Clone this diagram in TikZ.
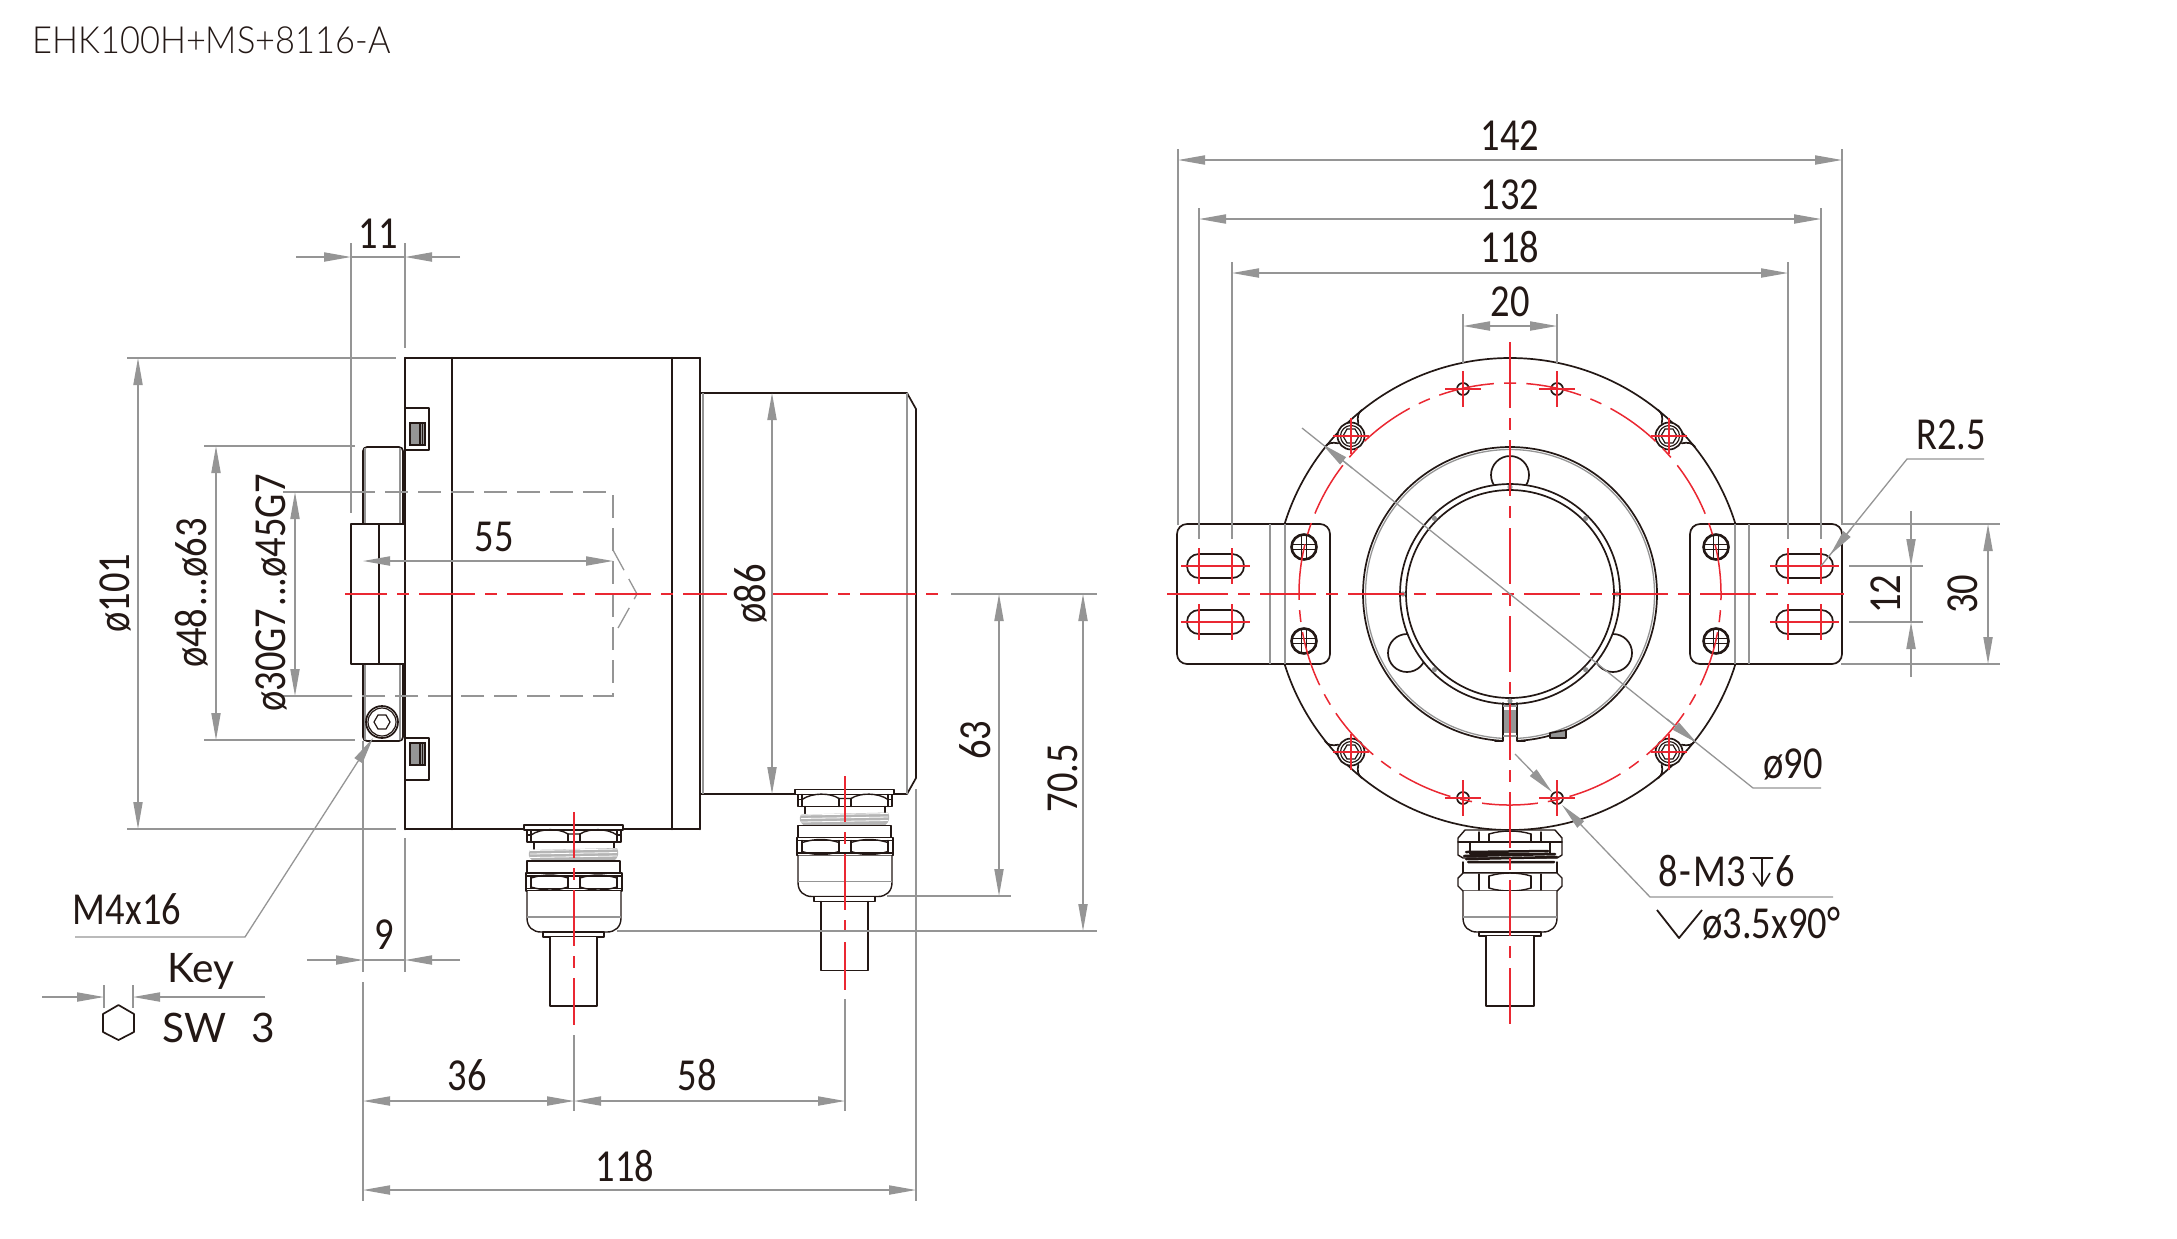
\documentclass[tikz,border=0pt]{standalone}
\usepackage{fontspec}
\usetikzlibrary{arrows.meta}
\newfontfamily\dimfont[FakeStretch=0.84]{Carlito}
\newfontfamily\lblfont{Lato}
\newfontfamily\ttlfont[FakeStretch=0.92]{Lato Light}
\definecolor{inkc}{HTML}{231815}
\definecolor{dimc}{HTML}{959595}
\definecolor{redc}{HTML}{EA2832}
\tikzset{
  x=0.5pt,y=-0.5pt,
  tip/.tip={Triangle[length=13.5pt,width=4.6pt,fill=dimc]},
  ink/.style={draw=inkc,line width=0.85pt,line cap=round,line join=round},
  inkg/.style={draw=inkc,line width=0.7pt,line cap=round,line join=round},
  inkb/.style={draw=inkc,line width=1.25pt,line cap=round,line join=round},
  inkt/.style={draw=inkc,line width=0.6pt},
  gl/.style={draw=dimc,line width=0.65pt},
  gdash/.style={draw=dimc,line width=0.65pt,dash pattern=on 11.5pt off 5pt},
  dimboth/.style={gl,{tip}-{tip}},
  dimto/.style={gl,-{tip}},
  rl/.style={draw=redc,line width=0.7pt},
  rc/.style={draw=redc,line width=0.75pt,dash pattern=on 28pt off 5pt on 6pt off 5pt},
  dimt/.style={inner sep=0pt,text=inkc,font=\dimfont\fontsize{22.9}{24}\selectfont,text height=14.5pt,text depth=0pt},
  lbl/.style={inner sep=0pt,text=inkc,font=\lblfont\fontsize{20.3}{22}\selectfont,anchor=base},
  gland/.pic={
    \draw[inkg,fill=white] (-50,0) rectangle (49,5);
    \draw[inkg,fill=white] (-47,5) rectangle (47,17);
    \draw[inkg] (-43,5)--(-43,17) (43,5)--(43,17) (-6,9)--(-6,17) (6,9)--(6,17) (-47,10)--(-43,10) (47,10)--(43,10);
    \draw[inkg] (-43,10) .. controls (-33,3) and (-15,3) .. (-6,9) -- (6,9) .. controls (15,3) and (33,3) .. (43,10);
    \draw[inkg] (-40,17)--(-40,24) (40,17)--(40,24);
    \fill[dimc!70] (-44,25) .. controls (-46,29) and (-46,32) .. (-41,36) -- (40,36) .. controls (45,32) and (45,27) .. (43,23) -- cycle;
    \foreach \yy in {25.5,29,32.5}{\draw[white,line width=0.4pt] (-44,\yy)--(43,\yy-1.5);}
    \draw[inkg,fill=white] (-47,36) -- (46,36) -- (46,48) -- (-47,48) -- cycle;
    \draw[inkg,fill=white] (-48,48) rectangle (48,66);
    \draw[inkg] (-48,51)--(48,51) (-48,63.5)--(48,63.5) (-43,51)--(-43,63.5) (43,51)--(43,63.5) (-6,51)--(-6,63.5) (6,51)--(6,63.5);
    \draw[inkg] (-43,53) .. controls (-30,49) and (-18,49) .. (-6,53) (-43,62) .. controls (-30,66) and (-18,66) .. (-6,62);
    \draw[inkg] (43,53) .. controls (30,49) and (18,49) .. (6,53) (43,62) .. controls (30,66) and (18,66) .. (6,62);
    \draw[inkg,fill=white] (-47,66) -- (-47,93) .. controls (-47,102) and (-41,107) .. (-33,107) -- (33,107) .. controls (41,107) and (47,102) .. (47,93) -- (47,66);
    \draw[gl] (-47,92)--(47,92);
    \draw[inkg,fill=white] (-31,107) rectangle (30,112);
    \draw[inkg,fill=white] (-24,112) -- (-24,181) -- (23,181) -- (23,112);
  },
  glandb/.pic={
    \draw[inkg,fill=white] (-52,8) -- (-45,0) -- (45,0) -- (52,8) -- (52,25) -- (47,28) -- (-47,28) -- (-52,25) -- cycle;
    \draw[inkg] (-52,12)--(52,12) (-31,2)--(-31,12) (-21,4)--(-21,12) (21,4)--(21,12) (31,2)--(31,12);
    \draw[inkg] (-21,4) .. controls (-8,0) and (8,0) .. (21,4);
    \draw[inkg,fill=white] (-40,12) rectangle (40,24);
    \draw[inkb] (-44,22)--(38,21) (-46,26)--(45,24) (-44,29)--(47,27) (-42,32)--(44,32);
    \draw[inkg] (-47,32) -- (-47,43) (47,32) -- (47,43) (-47,43)--(47,43);
    \draw[inkg,fill=white] (-47,43) -- (47,43) -- (52,48) -- (52,56) -- (47,61) -- (-47,61) -- (-52,56) -- (-52,48) -- cycle;
    \draw[inkg] (-31,44)--(-31,60) (-21,46)--(-21,58) (21,46)--(21,58) (31,44)--(31,60);
    \draw[inkg] (-21,46) .. controls (-8,42) and (8,42) .. (21,46) (-21,58) .. controls (-8,62) and (8,62) .. (21,58);
    \draw[inkg,fill=white] (-47,61) -- (-47,88) .. controls (-47,97) and (-41,102) .. (-33,102) -- (33,102) .. controls (41,102) and (47,97) .. (47,88) -- (47,61);
    \draw[gl] (-47,87)--(47,87);
    \draw[inkg,fill=white] (-31,102) rectangle (31,106);
    \draw[inkg,fill=white] (-24,106) -- (-24,176) -- (24,176) -- (24,106);
  },
  phil/.pic={
    \draw[draw=inkc,line width=1.3pt,fill=white] (0,0) circle[radius=12.5];
    \draw[inkt] (-12,-2.5)--(12,-2.5) (-12,2.5)--(12,2.5) (-2.5,-12)--(-2.5,12) (2.5,-12)--(2.5,12);
    \fill[white] (-2.2,-2.2) rectangle (2.2,2.2);
  },
  boltp/.pic={
    \draw[ink,fill=white] (0,0) circle[radius=13.5];
    \draw[inkt] (0,0) circle[radius=10.5];
    \draw[inkt] (8,0)--(4,-7)--(-4,-7)--(-8,0)--(-4,7)--(4,7)--cycle;
  }
}
\begin{document}
\begin{tikzpicture}
\useasboundingbox (0,0) rectangle (2177,1238);
\node[inner sep=0pt,text=inkc,anchor=base west,font=\ttlfont\fontsize{18.7}{22}\selectfont] (title) at (32,53) {EHK100H+MS+8116-A};

%% ---------- side view: body
\draw[ink] (405,358) rectangle (700,829);
\draw[inkb] (405,358)--(405,829) (452,358)--(452,829) (672,358)--(672,829) (700,358)--(700,829);
\draw[ink] (700,393)--(907,393)--(916,409)--(916,778)--(907,794)--(700,794);
\draw[gl] (703,393)--(703,794) (907,393)--(907,794);
\foreach \yy/\iy in {408/423,738/743}{
  \draw[ink] (405,\yy) rectangle (429,\yy+42);
  \fill[dimc] (410,\iy) rectangle (425,\iy+22);
  \draw[inkt] (410,\iy) rectangle (425,\iy+22);
  \draw[inkt] (420,\iy)--(420,\iy+22) (422.5,\iy)--(422.5,\iy+22);
}
\draw[ink,rounded corners=2pt] (403,447)--(363,447)--(363,741)--(403,741)--cycle;
\draw[gl] (365,448)--(365,740) (400,448)--(400,740);
\draw[inkb] (403,480)--(403,710);
\draw[inkb,fill=white] (351,524) rectangle (405,664);
\draw[ink] (379,524)--(379,664);
\draw[ink] (382,722) circle[radius=16];
\draw[inkt] (382,722) circle[radius=14];
\draw[inkt] (390,722)--(386,715)--(378,715)--(374,722)--(378,729)--(386,729)--cycle;

%% glands on the side view
\pic at (574,825) {gland};
\pic at (845,789.5) {gland};

%% dashed bore
\draw[gdash] (352,492)--(613,492)--(613,696)--(352,696);
\draw[gdash] (613,550)--(637,594)--(613,637);

%% centre lines side view
\draw[rc,dash phase=7pt] (345,594)--(727,594);
\draw[rc] (772,594)--(944,594);
\draw[gl] (951,594)--(1097,594);
\draw[rc,dash phase=5pt] (574,812)--(574,1025);
\draw[rc,dash phase=5pt] (845,776)--(845,990);

%% extension lines side view
\draw[gl] (351,243)--(351,513) (405,243)--(405,348) (405,838)--(405,972);
\draw[gl] (127,358)--(396,358) (127,829)--(396,829);
\draw[gl] (204,446)--(355,446) (204,740)--(355,740);
\draw[gl] (283,492)--(352,492) (283,696)--(352,696);
\draw[gl] (363,741)--(363,972) (363,982)--(363,1201) (916,789)--(916,1201);
\draw[gl] (574,1035)--(574,1111) (845,999)--(845,1111);
\draw[gl] (887,896)--(1011,896) (617,931)--(1097,931);

%% dimensions side view
\draw[dimto] (296,257)--(351,257);
\draw[gl] (351,257)--(405,257);
\draw[dimto] (460,257)--(405,257);
\node[dimt] (d11) at (378,234) {11};
\draw[dimboth] (138,358)--(138,829);
\node[dimt,rotate=90] (d101) at (115,593) {ø101};
\draw[dimboth] (216,446)--(216,740);
\node[dimt,rotate=90] (d63) at (191.5,593) {ø48\kern1pt...ø63};
\draw[dimboth] (295,492)--(295,696);
\node[dimt,rotate=90] (d45) at (270.5,593) {ø30G7\kern1pt...ø45G7};
\draw[dimboth] (363,561)--(613,561);
\node[dimt] (d55) at (494,537) {55};
\draw[dimboth] (772,393)--(772,794);
\node[dimt,rotate=90] (d86) at (751,594) {ø86};
\draw[dimboth] (999,594)--(999,896);
\node[dimt,rotate=90] (d63b) at (976,740) {63};
\draw[dimboth] (1083,594)--(1083,931);
\node[dimt,rotate=90] (d705) at (1063,778) {70.5};
\draw[dimto] (307,960)--(363,960);
\draw[gl] (363,960)--(405,960);
\draw[dimto] (460,960)--(405,960);
\node[dimt] (d9) at (384,935) {9};
\draw[dimboth] (363,1101)--(574,1101);
\node[dimt] (d36) at (467,1076) {36};
\draw[dimboth] (574,1101)--(845,1101);
\node[dimt] (d58) at (697,1076) {58};
\draw[dimboth] (363,1190)--(916,1190);
\node[dimt] (d118) at (625,1167) {118};

%% M4x16 and key
\draw[gl,-{tip}] (75,937)--(245,937)--(373,738);
\node[dimt] (m4) at (127,910) {M4x16};
\node[lbl] (key) at (201,982) {Key};
\draw[dimto] (42,997)--(104,997);
\draw[dimto] (265,997)--(133,997);
\draw[gl] (104,985)--(104,1008) (133,985)--(133,1008);
\draw[ink] (118.5,1005)--(134,1014)--(134,1032)--(118.5,1040)--(103,1032)--(103,1014)--cycle;
\node[lbl,anchor=base west] (sw) at (162,1042) {SW\hspace{0.62em}3};

%% ---------- front view
\draw[ink] (1510,594) circle[radius=236];
\draw[gl] (1510,594) circle[radius=144.5];
\draw[ink] (1510,594) circle[radius=147];
\foreach \cx/\cy in {1510/475,1407/653,1613/653}{
  \draw[ink] (\cx,\cy) circle[radius=19];
}
\fill[white] (1510,594) circle[radius=104];
\draw[ink,fill=white] (1510,594) circle[radius=110];
\draw[ink] (1510,594) circle[radius=104];
\foreach \ang in {0,45,90,135,180,225,270,315}{
  \fill[dimc] ([shift={(\ang:107)}]1510,594) circle[radius=2.6];
}
\fill[white] (1503,706) rectangle (1517,745);
\draw[ink] (1503,703)--(1503,741)--(1495,741) (1517,703)--(1517,741)--(1525,741);
\fill[dimc] (1504,710) rectangle (1516,733);
\draw[gl] (1503,706)--(1517,706) (1503,736)--(1517,736);
\draw[ink,fill=dimc] (1550,738)--(1566,738)--(1566,730)--(1550,733)--cycle;

%% bolts on the flange
\foreach \sx in {-1,1}{
  \foreach \sy in {-1,1}{
    \pgfmathsetmacro{\bx}{1510+\sx*159}
    \pgfmathsetmacro{\by}{594+\sy*158}
    \pic at (\bx,\by) {boltp};
    \draw[ink] ({\bx-\sx*7.3},{\by+\sy*12.7}) .. controls ({\bx-\sx*6},{\by+\sy*19}) and ({\bx-\sx*7},{\by+\sy*23}) .. ({\bx-\sx*10.7},{\by+\sy*26});
    \draw[ink] ({\bx+\sx*12.7},{\by-\sy*7.3}) .. controls ({\bx+\sx*19},{\by-\sy*6}) and ({\bx+\sx*23},{\by-\sy*7}) .. ({\bx+\sx*26},{\by-\sy*10.7});
  }
}
\foreach \px/\py in {1463/389,1557/389,1463/798,1557/798}{
  \draw[ink] (\px,\py) circle[radius=6];
}

%% bracket plates
\draw[ink,fill=white,rounded corners=5pt] (1177,524) rectangle (1330,664);
\draw[ink,fill=white,rounded corners=5pt] (1690,524) rectangle (1842,664);
\draw[gl] (1270,524)--(1270,664) (1285,524)--(1285,664) (1735,524)--(1735,664) (1749,524)--(1749,664);
\foreach \sx in {1215.5,1804.5}{
  \foreach \sy in {566,622}{
    \draw[ink,rounded corners=5.9pt] (\sx-28.5,\sy-12) rectangle (\sx+28.5,\sy+12);
  }
}
\foreach \sx in {1304,1716}{
  \pic at (\sx,547) {phil};
  \pic at (\sx,641) {phil};
}

%% gland front view
\pic at (1510,830) {glandb};

%% red
\draw[rl] (1167,594)--(1172,594);
\draw[rc] (1172,594)--(1853,594);
\draw[rl] (1510,342)--(1510,352);
\draw[rc] (1510,352)--(1510,1032);
\draw[rc,dash pattern=on 28pt off 5.1pt on 6pt off 5.1pt] (1510,594) ++(82.4:211) arc[start angle=82.4,delta angle=360,x radius=211,y radius=211];
\foreach \px/\py in {1463/389,1557/389,1463/798,1557/798,1351/436,1669/436,1351/752,1669/752}{
  \draw[rl] (\px-18,\py)--(\px+18,\py) (\px,\py-18)--(\px,\py+18);
}
\foreach \sy in {566,622}{
  \draw[rl] (1181,\sy)--(1250,\sy) (1770,\sy)--(1839,\sy);
  \foreach \sx in {1199,1232,1788,1821}{
    \draw[rl] (\sx,\sy-18)--(\sx,\sy+18);
  }
}

%% dimensions front view
\draw[gl] (1178,149)--(1178,525) (1842,149)--(1842,525);
\draw[gl] (1199,208)--(1199,539) (1821,208)--(1821,539);
\draw[gl] (1232,262)--(1232,539) (1788,262)--(1788,539);
\draw[gl] (1463,314)--(1463,363) (1557,314)--(1557,363);
\draw[dimboth] (1178,160)--(1842,160);
\node[dimt] (t142) at (1510,135.5) {142};
\draw[dimboth] (1199,219)--(1821,219);
\node[dimt] (t132) at (1510,194.5) {132};
\draw[dimboth] (1232,273)--(1788,273);
\node[dimt] (t118) at (1510,248) {118};
\draw[dimboth] (1463,326)--(1557,326);
\node[dimt] (t20) at (1510,301.5) {20};

\draw[gl] (1842,524)--(2000,524) (1841,664)--(2000,664);
\draw[gl] (1849,566)--(1923,566) (1849,622)--(1923,622);
\draw[dimboth] (1988,524)--(1988,664);
\node[dimt,rotate=90] (t30) at (1963,594) {30};
\draw[dimto] (1911,511)--(1911,566);
\draw[gl] (1911,566)--(1911,622);
\draw[dimto] (1911,677)--(1911,622);
\node[dimt,rotate=90] (t12) at (1886,594) {12};

\draw[gl] (1984,459)--(1907,459)--(1821,566);
\draw[dimto] (1851,529)--(1830,555);
\node[dimt] (r25) at (1951,435) {R2.5};

\draw[gl] (1302,428)--(1753,788)--(1821,788);
\draw[dimto] (1352,468)--(1322,444);
\draw[dimto] (1667,719)--(1697,743);
\node[dimt] (p90) at (1793,764) {ø90};

\draw[dimto] (1515,754)--(1552,792);
\draw[gl,{tip}-] (1562,805)--(1650,897)--(1833,897);
\node[dimt,anchor=west] (m3) at (1658,872) {8\kern1pt-\kern1ptM3};
\draw[draw=inkc,line width=0.8pt,line join=round] (1750,858)--(1773,858) (1762,858)--(1762,885) (1753,873)--(1762,886)--(1770,873);
\node[dimt,anchor=west] (m3b) at (1775,872) {6};
\draw[draw=inkc,line width=0.9pt,line join=round] (1657,910)--(1679,938)--(1702,910);
\node[dimt,anchor=west] (cs) at (1702,924) {ø3.5x90°};
\end{tikzpicture}
\end{document}
